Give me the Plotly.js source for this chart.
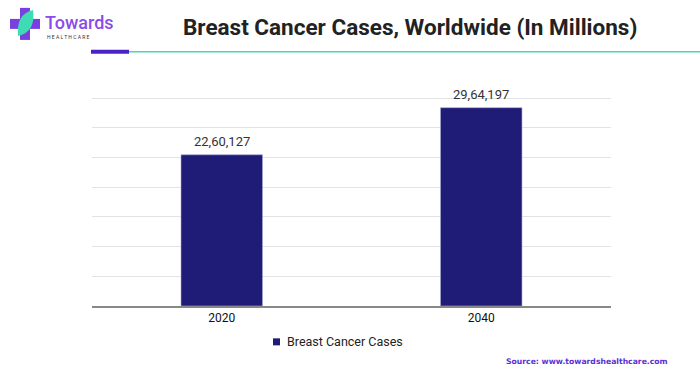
<!DOCTYPE html>
<html>
<head>
<meta charset="utf-8">
<script src="https://cdn.plot.ly/plotly-3.0.1.min.js"></script>
<style>html,body{margin:0;padding:0;background:#fff;}#chart{width:700px;height:376px;}</style>
</head>
<body>
<div id="chart"></div>
<script>
// ---- data ----
const categories = ["2020", "2040"];
const seriesName = "Breast Cancer Cases";
const cases = [2260127, 2964197];
const titleText = "Breast Cancer Cases, Worldwide (In Millions)";
const sourceText = "Source: www.towardshealthcare.com";

function indianFormat(n) {
  const s = String(Math.round(n));
  if (s.length <= 3) return s;
  let last3 = s.slice(-3);
  let rest = s.slice(0, -3);
  rest = rest.replace(/\B(?=(\d{2})+(?!\d))/g, ",");
  return rest + "," + last3;
}

const W = 700, H = 376;
const gridTopPx = 98.3, B = 305.7;
const yTop = 3104000;          // value at the top gridline
const rangeTop = yTop * 1.04;  // a little headroom so the top gridline is drawn
const T = B - (B - gridTopPx) * 1.04;
const L = 92, R = 611;
const px = x => (x - L) / (R - L);
const py = y => (B - y) / (B - T);
const dtick = yTop / 7;

const barColor = "#1f1c78";

const trace = {
  type: "bar",
  x: categories,
  y: cases,
  name: seriesName,
  marker: {color: barColor, line: {color: "#a9a9d0", width: 0.6}},
  hoverinfo: "skip",
  showlegend: false
};

const purple = "#7b3fe0";
const teal = "#3ddcb4";

// value labels placed via the category index on the x axis and the value on the y axis
const valueLabels = categories.map((c, i) => ({
  x: i, y: cases[i], xref: "x", yref: "y",
  text: indianFormat(cases[i]),
  showarrow: false, xanchor: "center", yanchor: "middle", yshift: 13,
  font: {family: "Roboto, Arial, sans-serif", size: 13, color: "#333333"}
}));

const layout = {
  width: W, height: H,
  margin: {l: L, r: W - R, t: T, b: H - B, pad: 0},
  paper_bgcolor: "#ffffff",
  plot_bgcolor: "#ffffff",
  bargap: 0.686,
  showlegend: false,
  xaxis: {
    type: "category",
    categoryorder: "array", categoryarray: categories,
    range: [-0.5, categories.length - 0.5],
    showgrid: false,
    showline: true, linecolor: "#888888", linewidth: 1.5,
    ticks: "", ticklen: 0,
    tickfont: {family: "Roboto, Arial, sans-serif", size: 12, color: "#111111"},
    fixedrange: true
  },
  yaxis: {
    range: [0, rangeTop],
    tick0: 0, dtick: dtick,
    showticklabels: false,
    showgrid: true, gridcolor: "#e3e3e3", gridwidth: 1,
    zeroline: false,
    showline: false,
    fixedrange: true
  },
  shapes: [
    // header underline: purple segment + teal line
    {type: "line", xref: "paper", yref: "paper", x0: px(91), x1: px(129), y0: py(51.7), y1: py(51.7), line: {color: "#4b22c8", width: 4}},
    {type: "line", xref: "paper", yref: "paper", x0: px(129), x1: px(700), y0: py(51.7), y1: py(51.7), line: {color: teal, width: 1.5}},
    // logo cross
    {type: "rect", xref: "paper", yref: "paper", x0: px(20), x1: px(30), y0: py(40), y1: py(8), fillcolor: purple, line: {width: 0}},
    {type: "rect", xref: "paper", yref: "paper", x0: px(10), x1: px(40), y0: py(29), y1: py(19), fillcolor: purple, line: {width: 0}},
    // logo leaf
    {type: "path", xref: "paper", yref: "paper",
     path: "M " + px(18) + "," + py(36) + " Q " + px(16) + "," + py(14) + " " + px(33) + "," + py(10) +
           " Q " + px(36) + "," + py(32) + " " + px(18) + "," + py(36) + " Z",
     fillcolor: teal, line: {width: 0}},
    // legend swatch
    {type: "rect", xref: "paper", yref: "paper", x0: px(273), x1: px(280), y0: py(345), y1: py(338), fillcolor: barColor, line: {width: 0}}
  ],
  annotations: valueLabels.concat([
    {text: "<b>" + titleText + "</b>", xref: "paper", yref: "paper", x: px(410), y: py(27), xanchor: "center", yanchor: "middle",
     showarrow: false, font: {family: "Roboto, Arial, sans-serif", size: 22.5, color: "#222222"}},
    {text: "Towards", xref: "paper", yref: "paper", x: px(43), y: py(23), xanchor: "left", yanchor: "middle",
     showarrow: false, font: {family: "Roboto, Arial, sans-serif", size: 18, color: "#8a4ce8", weight: 500}},
    {text: "H E A L T H C A R E", xref: "paper", yref: "paper", x: px(45), y: py(37), xanchor: "left", yanchor: "middle",
     showarrow: false, font: {family: "Roboto, Arial, sans-serif", size: 5, color: "#333333"}},
    {text: seriesName, xref: "paper", yref: "paper", x: px(285), y: py(341.5), xanchor: "left", yanchor: "middle",
     showarrow: false, font: {family: "Roboto, Arial, sans-serif", size: 12.5, color: "#222222"}},
    {text: "<b>" + sourceText + "</b>", xref: "paper", yref: "paper", x: px(670), y: py(361), xanchor: "right", yanchor: "middle",
     showarrow: false, font: {family: "DejaVu Sans, Arial, sans-serif", size: 7.7, color: "#5a2ed6"}}
  ])
};

Plotly.newPlot("chart", [trace], layout, {displayModeBar: false, staticPlot: true});
</script>
</body>
</html>
